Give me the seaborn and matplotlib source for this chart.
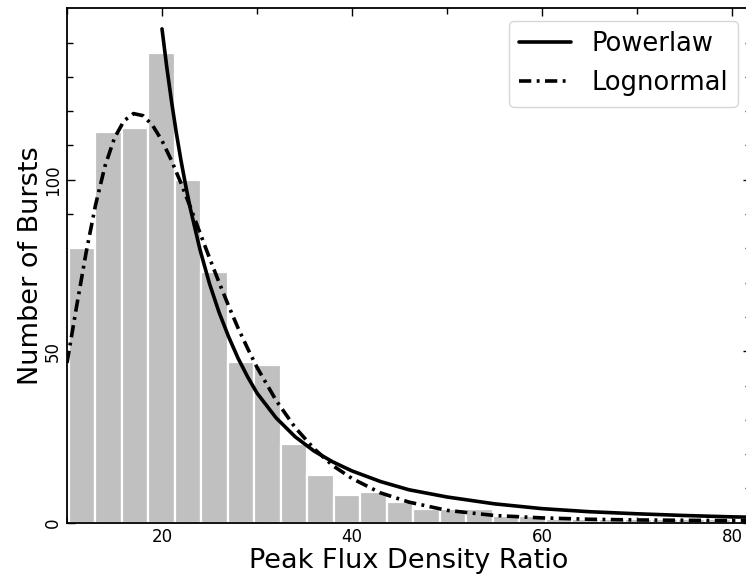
import numpy as np
import pandas as pd
import matplotlib
matplotlib.use("Agg")
import matplotlib.pyplot as plt
import seaborn as sns
from matplotlib.ticker import FixedLocator

# ---- data ----
bin_start = 10.19
bin_width = 2.79
counts = [80, 114, 115, 137, 100, 73, 47, 46, 23, 14, 8, 9, 6, 4, 4, 4,
          2, 2, 1, 1, 1, 1, 1, 1, 1]

pl_x = [20, 20.5, 21, 21.5, 22, 22.5, 23, 24, 25, 26, 27, 28, 29, 30, 32,
        34, 36, 38, 40, 43, 46, 50, 55, 60, 65, 70, 75, 80, 82]
pl_y = [144, 132.9, 122.9, 113.8, 105.6, 98.2, 91.4, 79.6, 69.7, 61.4, 54.3,
        48.0, 42.6, 37.8, 30.6, 25.1, 20.9, 17.7, 15.1, 12.0, 9.6, 7.5, 5.5,
        4.1, 3.2, 2.6, 2.1, 1.7, 1.6]

ln_x = [10, 11, 12, 13, 14, 15, 16, 17, 18, 19, 20, 21, 22, 23, 24, 25, 26,
        27, 28, 29, 30, 32, 34, 36, 38, 40, 43, 46, 50, 55, 60, 65, 70, 75,
        80, 82]
ln_y = [46.6, 62.9, 78.6, 92.6, 104.0, 112.2, 117.2, 119.3, 118.7, 115.9,
        111.4, 105.6, 99.0, 91.9, 84.5, 77.2, 70.1, 63.3, 56.8, 50.9, 45.3,
        35.7, 27.8, 21.6, 16.6, 12.9, 8.7, 6.0, 3.6, 2.1, 1.4, 1.0, 0.8, 0.7,
        0.6, 0.55]

legend_labels = ["Powerlaw", "Lognormal"]
x_label = "Peak Flux Density Ratio"
y_label = "Number of Bursts"

# ---- figure ----
sns.set_style("ticks")
plt.rcParams['font.family'] = ['DejaVu Sans']

fig = plt.figure(figsize=(7.46, 5.78), dpi=100)
ax = fig.add_axes([67 / 746, 55.3 / 578, (751 - 67) / 746, 514.4 / 578])

edges = [bin_start + bin_width * i for i in range(len(counts) + 1)]
centers = [bin_start + bin_width * (i + 0.5) for i in range(len(counts))]
df = pd.DataFrame({"x": centers, "n": counts})
sns.histplot(data=df, x="x", weights="n", bins=edges, ax=ax,
             color="#c0c0c0", edgecolor="white", linewidth=1.6, alpha=1.0)

sns.lineplot(x=pl_x, y=pl_y, ax=ax, color="black", linewidth=2.6,
             linestyle="-", label=legend_labels[0])
sns.lineplot(x=ln_x, y=ln_y, ax=ax, color="black", linewidth=2.6,
             linestyle=(0, (3.4, 1.5, 0.8, 1.5)), label=legend_labels[1])

ax.set_xlim(10, 82)
ax.set_ylim(0, 150)
ax.xaxis.set_major_locator(FixedLocator([20, 40, 60, 80]))
ax.xaxis.set_minor_locator(FixedLocator([10, 30, 50, 70]))
ax.yaxis.set_major_locator(FixedLocator([0, 50, 100]))
ax.yaxis.set_minor_locator(FixedLocator([10, 20, 30, 40, 60, 70, 80, 90,
                                         110, 120, 130, 140]))

ax.tick_params(which="both", direction="in", top=True, right=True,
               labelsize=12, width=1.0, color="black", labelcolor="black")
ax.tick_params(which="major", length=6)
ax.tick_params(which="minor", length=4)
for lab in ax.get_yticklabels():
    lab.set_rotation(90)
    lab.set_va("center")

for s in ax.spines.values():
    s.set_linewidth(1.3)
    s.set_color("black")

ax.set_xlabel(x_label, fontsize=19.5, labelpad=2, color="black")
ax.set_ylabel(y_label, fontsize=19.5, labelpad=0, color="black")

leg = ax.legend(loc="upper right", fontsize=18.5, frameon=True,
                fancybox=True, borderaxespad=0.5)
leg.get_frame().set_edgecolor("0.8")
for t in leg.get_texts():
    t.set_color("black")

fig.savefig("out.png", dpi=100)
